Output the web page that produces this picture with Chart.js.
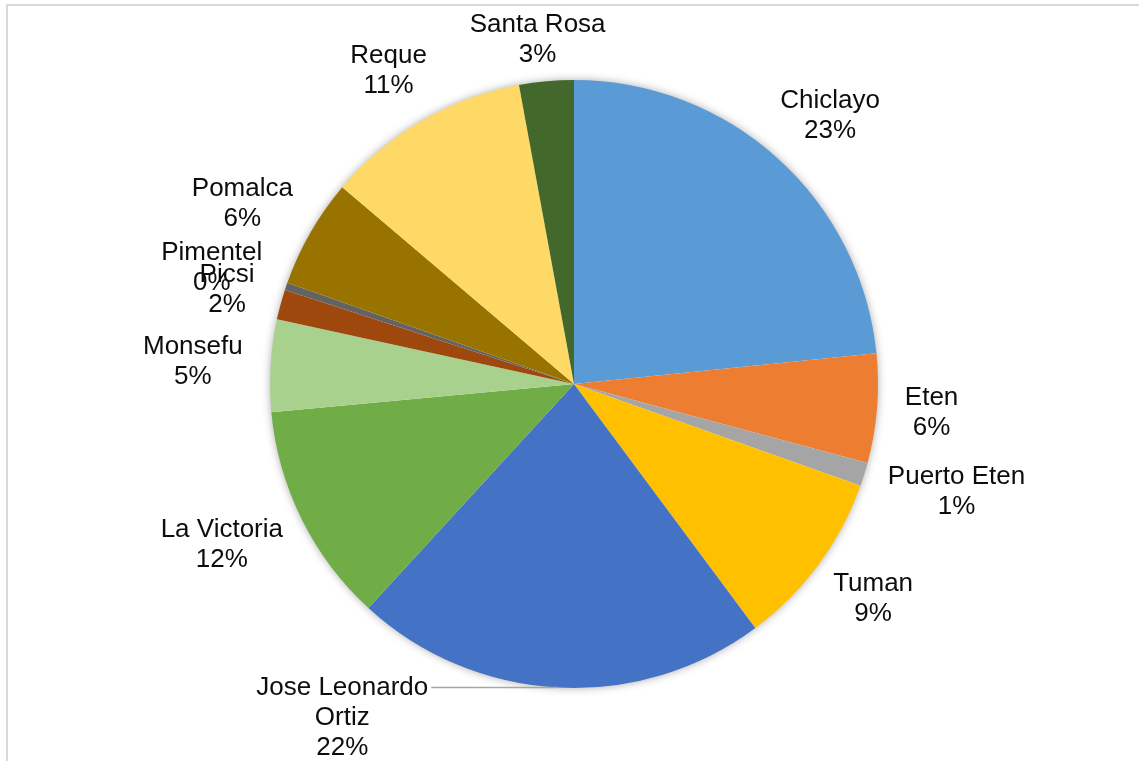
<!DOCTYPE html>
<html>
<head>
<meta charset="utf-8">
<script src="https://cdn.jsdelivr.net/npm/chart.js@4"></script>
<style>
  body { margin: 0; background: #fff; }
  canvas { display: block; }
</style>
</head>
<body>
<canvas id="myChart" width="1139" height="761"></canvas>
<script>
const districts = ['Chiclayo', 'Eten', 'Puerto Eten', 'Tuman', 'Jose Leonardo Ortiz', 'La Victoria',
  'Monsefu', 'Picsi', 'Pimentel', 'Pomalca', 'Reque', 'Santa Rosa'];
const shares = [23.4, 5.8, 1.25, 9.4, 22.0, 11.7, 4.9, 1.6, 0.4, 5.8, 10.9, 2.9];
const sliceColors = ['#5B9BD5', '#ED7D31', '#A5A5A5', '#FFC000', '#4472C4', '#70AD47',
  '#A9D18E', '#9E480E', '#636363', '#997300', '#FFD966', '#43682B'];

const labelFont = '26px "Liberation Sans", Arial, sans-serif';
const lineH = 30;

// grey frame + soft shadow under the pie
const framePlugin = {
  id: 'frame',
  beforeDraw(chart) {
    const ctx = chart.ctx;
    ctx.save();
    ctx.strokeStyle = '#d9d9d9';
    ctx.lineWidth = 2;
    ctx.strokeRect(7, 5, 1300, 900);
    ctx.restore();
  },
  beforeDatasetsDraw(chart) {
    const arc = chart.getDatasetMeta(0).data[0];
    if (!arc) return;
    const ctx = chart.ctx;
    ctx.save();
    ctx.shadowColor = 'rgba(0,0,0,0.4)';
    ctx.shadowBlur = 10;
    ctx.fillStyle = '#fff';
    ctx.beginPath();
    ctx.arc(arc.x, arc.y, arc.outerRadius - 1, 0, Math.PI * 2);
    ctx.fill();
    ctx.restore();
  }
};

const labelPlugin = {
  id: 'outLabels',
  afterDatasetsDraw(chart) {
    const ctx = chart.ctx;
    const meta = chart.getDatasetMeta(0);
    const total = shares.reduce((a, b) => a + b, 0);
    ctx.save();
    ctx.font = labelFont;
    ctx.fillStyle = '#0d0d0d';
    ctx.textAlign = 'center';
    ctx.textBaseline = 'middle';
    meta.data.forEach(function (arc, i) {
      const name = districts[i];
      let lines = [name];
      if (ctx.measureText(name).width > 200) {
        const k = name.lastIndexOf(' ');
        lines = [name.slice(0, k), name.slice(k + 1)];
      }
      lines.push(Math.round(shares[i] / total * 100) + '%');
      const w = Math.max(...lines.map(l => ctx.measureText(l).width));
      const h = lines.length * lineH;
      const a = (arc.startAngle + arc.endAngle) / 2;
      const dx = Math.cos(a), dy = Math.sin(a);
      const r = arc.outerRadius;
      let cx = arc.x + (r + 28) * dx + dx * w / 2;
      let cy = arc.y + (r + 28) * dy + dy * h / 2;
      if (cy - h / 2 < 10) cy = 10 + h / 2;
      if (cy + h / 2 > chart.height) {
        // no room below: move label to the left with a leader line
        const ex = arc.x + r * dx, ey = arc.y + r * dy;
        const right = ex - 130;
        cx = right - w / 2;
        cy = ey - lineH / 2 + h / 2;
        const firstW = ctx.measureText(lines[0]).width;
        ctx.strokeStyle = '#a6a6a6';
        ctx.lineWidth = 1.5;
        ctx.beginPath();
        ctx.moveTo(cx + firstW / 2 + 3, ey);
        ctx.lineTo(ex, ey);
        ctx.stroke();
      }
      lines.forEach(function (l, j) {
        ctx.fillText(l, cx, cy - h / 2 + lineH / 2 + j * lineH);
      });
    });
    ctx.restore();
  }
};

const ctx1 = document.getElementById('myChart').getContext('2d');
const myChart = new Chart(ctx1, {
  type: 'pie',
  data: {
    labels: districts,
    datasets: [{
      data: shares,
      backgroundColor: sliceColors,
      borderWidth: 0
    }]
  },
  options: {
    responsive: false,
    animation: false,
    layout: { padding: { top: 80, bottom: 73, left: 220, right: 211 } },
    plugins: {
      legend: { display: false },
      tooltip: { enabled: false }
    }
  },
  plugins: [framePlugin, labelPlugin]
});
</script>
</body>
</html>
